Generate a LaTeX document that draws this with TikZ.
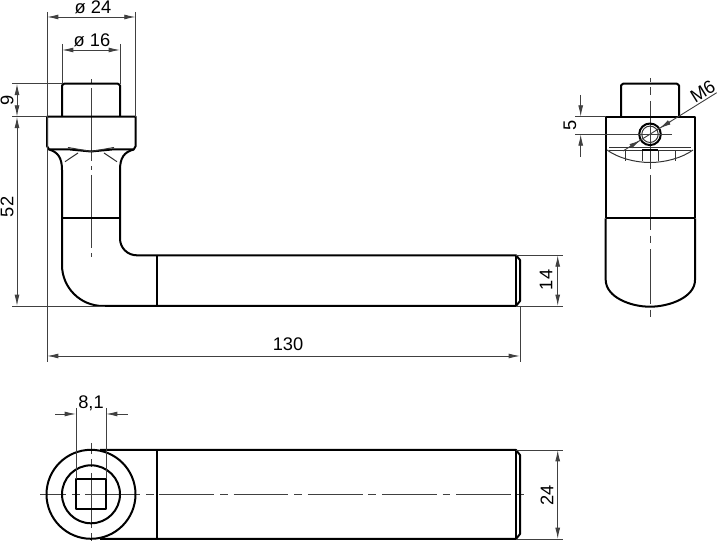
\documentclass[tikz,border=0pt]{standalone}
\usepackage{fontspec}
\setmainfont{Liberation Sans}
\usetikzlibrary{arrows.meta}
\tikzset{
	edge/.style={line width=0.4mm, line join=round},
	thinedge/.style={line width=0.2mm, black!80},
	dimline/.style={line width=0.18mm, black!75},
	centre/.style={line width=0.2mm, black!75, dash pattern=on 31.2pt off 3.3pt on 4.4pt off 3.3pt},
	longcentre/.style={line width=0.2mm, black!75, dash pattern=on 41.5pt off 3pt on 2pt off 3pt},
	tip/.style={dimline, -{Latex[length=6.5pt,width=2.8pt]}},
	dimtext/.style={font=\fontsize{10.4pt}{11pt}\selectfont, inner sep=0pt}
}

\begin{document}
\begin{tikzpicture}[x=0.02cm, y=-0.02cm]
	\useasboundingbox (0, 0) rectangle (720, 546);

	%%%%% FRONT VIEW %%%%%
	\draw[longcentre, dash phase=44.4pt] (91, 79) -- (91, 260);
	\draw[edge] (62, 116.7) -- (62, 85.5) -- (64, 83.7) -- (118, 83.7) -- (120, 85.5) -- (120, 116.7);
	\draw[edge] (47, 116.7) -- (47, 146) -- (49, 149.5) -- (70, 149.5) -- (91, 151.5) -- (112, 149.5) -- (133.7, 149.5) -- (135.7, 146) -- (135.7, 116.7) -- cycle;
	\draw[edge] (49, 149.5) .. controls (58, 152) and (62, 158) .. (62, 170) -- (62, 265)
		arc (180:90:41) -- (516, 306) -- (520, 301) -- (520, 260) -- (516, 255.3) -- (136.7, 255.3)
		arc (90:180:16.7) -- (120, 170) .. controls (120, 158) and (124, 152) .. (133.7, 149.5);
	\draw[edge] (516, 255.3) -- (516, 306);
	\draw[edge] (62, 218.3) -- (120, 218.3);
	\draw[edge] (156.7, 255.3) -- (156.7, 306);
	\draw[thinedge] (68, 147.5) -- (91, 151.5) -- (114, 147.5);
	\draw[thinedge] (65, 161.7) -- (78, 153);
	\draw[thinedge] (117, 161.7) -- (104, 153);

	%%%%% SIDE VIEW %%%%%
	\draw[centre, dash phase=29.2pt] (650, 78) -- (650, 318);
	\draw[edge] (621, 116.7) -- (621, 85.5) -- (623, 83.7) -- (677, 83.7) -- (679, 85.5) -- (679, 116.7);
	\draw[edge] (605.7, 218.3) -- (605.7, 116.7) -- (695, 116.7) -- (695, 218.3);
	\draw[edge] (605.7, 218.3) -- (695, 218.3);
	\draw[edge] (605.7, 218.3) -- (605.7, 280) .. controls (606, 297) and (630, 306.7) .. (650, 306.7)
		.. controls (670, 306.7) and (695, 297) .. (695, 280) -- (695, 218.3);
	\draw[thinedge] (609, 148) -- (691, 148);
	\draw[thinedge] (609, 150.5) -- (691, 150.5);
	\draw[edge] (642, 150.5) -- (658.3, 150.5);
	\draw[thinedge] (607, 150) .. controls (618, 158) and (635, 162.5) .. (650, 162.5)
		.. controls (665, 162.5) and (682, 158) .. (693, 150);
	\foreach \xpos in {625, 642, 650, 658.3, 675} {
		\draw[thinedge] (\xpos, 151) -- (\xpos, 161.5);
	}
	\draw[edge] (650, 134.3) circle (10.8);
	\draw[thinedge] (650, 134.3) circle (8.2);

	%%%%% BOTTOM VIEW %%%%%
	\draw[centre, dash phase=16.4pt] (40, 494.3) -- (527, 494.3);
	\draw[centre, dash phase=25.2pt] (91, 443) -- (91, 545);
	\draw[edge] (91, 494.3) circle (44.5);
	\draw[edge] (91, 494.3) circle (29);
	\draw[edge] (76, 479.3) rectangle (106, 509.3);
	\draw[edge] (100, 450) -- (516, 450) -- (520, 455) -- (520, 534) -- (516, 539) -- (100, 539);
	\draw[edge] (516, 450) -- (516, 539);
	\draw[edge] (156.7, 450) -- (156.7, 539);

	%%%%% DIMENSIONS %%%%%
	\draw[dimline] (47, 12) -- (47, 362);
	\draw[dimline] (135.7, 12) -- (135.7, 116.7);
	\draw[tip] (91, 17) -- (47, 17);
	\draw[tip] (91, 17) -- (135.7, 17);
	\node[dimtext] (diaouter) at (93, 7) {ø 24};

	\draw[dimline] (62, 44) -- (62, 83.7);
	\draw[dimline] (120, 44) -- (120, 83.7);
	\draw[tip] (91, 50) -- (62, 50);
	\draw[tip] (91, 50) -- (120, 50);
	\node[dimtext] (diainner) at (92, 40) {ø 16};

	\draw[dimline] (12, 83.7) -- (62, 83.7);
	\draw[dimline] (12, 116.7) -- (47, 116.7);
	\draw[dimline] (12, 306) -- (105, 306);
	\draw[tip] (17, 100) -- (17, 83.7);
	\draw[tip] (17, 100) -- (17, 116.7);
	\draw[tip] (17, 210) -- (17, 116.7);
	\draw[tip] (17, 210) -- (17, 306);
	\node[dimtext, rotate=90] (capheight) at (7, 100) {9};
	\node[dimtext, rotate=90] (neckheight) at (7, 207) {52};

	\draw[dimline] (520, 306) -- (520, 362);
	\draw[tip] (288, 356) -- (47, 356);
	\draw[tip] (288, 356) -- (520, 356);
	\node[dimtext] (length) at (288, 344) {130};

	\draw[dimline] (516, 255.3) -- (563, 255.3);
	\draw[dimline] (516, 306) -- (563, 306);
	\draw[tip] (557.7, 280) -- (557.7, 255.3);
	\draw[tip] (557.7, 280) -- (557.7, 306);
	\node[dimtext, rotate=90] (barheight) at (546, 280) {14};

	\draw[dimline] (575, 116.7) -- (605.7, 116.7);
	\draw[dimline] (575, 134.3) -- (672, 134.3);
	\draw[tip] (580.7, 95) -- (580.7, 116.7);
	\draw[tip] (580.7, 157) -- (580.7, 134.3);
	\node[dimtext, rotate=90] (holepos) at (570, 125) {5};

	\draw[dimline] (623, 151) -- (716.7, 92.7);
	\draw[tip] (671, 121.2) -- (659.5, 128.4);
	\draw[tip] (629.5, 147) -- (640.5, 140.2);
	\node[dimtext, rotate=32] (thread) at (702.7, 91.7) {M6};

	\draw[dimline] (76, 408) -- (76, 479.3);
	\draw[dimline] (106, 408) -- (106, 479.3);
	\draw[tip] (55, 414) -- (76, 414);
	\draw[tip] (127.7, 414) -- (106, 414);
	\node[dimtext] (squarewidth) at (91, 403) {8,1};

	\draw[dimline] (516, 450) -- (563, 450);
	\draw[dimline] (516, 539) -- (563, 539);
	\draw[tip] (557.7, 495) -- (557.7, 450);
	\draw[tip] (557.7, 495) -- (557.7, 539);
	\node[dimtext, rotate=90] (barwidth) at (547, 495) {24};
\end{tikzpicture}
\end{document}
